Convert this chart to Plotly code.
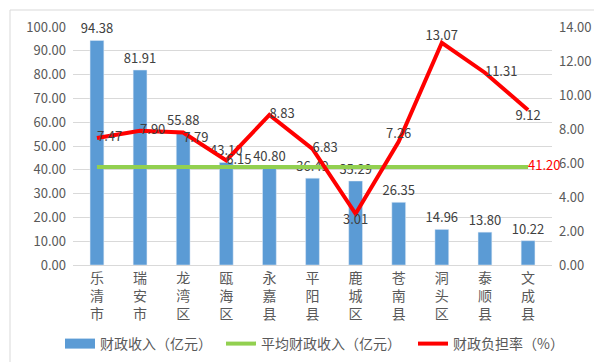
import plotly.graph_objects as go

categories = ["乐清市", "瑞安市", "龙湾区", "瓯海区", "永嘉县", "平阳县", "鹿城区", "苍南县", "洞头区", "泰顺县", "文成县"]
revenue = [94.38, 81.91, 55.88, 43.10, 40.80, 36.49, 35.29, 26.35, 14.96, 13.80, 10.22]
avg_revenue = 41.20
burden = [7.47, 7.90, 7.79, 6.15, 8.83, 6.83, 3.01, 7.26, 13.07, 11.31, 9.12]
left_ticks = [0, 10, 20, 30, 40, 50, 60, 70, 80, 90, 100]
right_ticks = [0, 2, 4, 6, 8, 10, 12, 14]

burden_pos = ["middle right", "middle right", "bottom right", "middle right", "middle right",
              "middle right", "bottom center", "top center", "top center", "middle right", "bottom center"]

FONT = "Noto Sans CJK SC, Noto Sans, sans-serif"
GRAY = "#595959"
BLUE = "#5B9BD5"

cat_labels = ["<br>".join(list(c)) for c in categories]

fig = go.Figure()
fig.add_trace(go.Bar(
    x=cat_labels, y=revenue, name="财政收入（亿元）", showlegend=False,
    marker=dict(color=BLUE), width=0.32,
    text=[f"{v:.2f}" for v in revenue], textposition="outside", constraintext="none",
    textfont=dict(color="#404040", size=13, family=FONT), cliponaxis=False,
))
# legend stand-in so the bar key is drawn as a wide block like the original
fig.add_trace(go.Scatter(
    x=[cat_labels[0]], y=[None], name="财政收入（亿元）", legend="legend",
    mode="lines", line=dict(color=BLUE, width=10), hoverinfo="skip",
))
fig.add_trace(go.Scatter(
    x=cat_labels, y=[avg_revenue] * len(categories), name="平均财政收入（亿元）", legend="legend2",
    mode="lines+text", line=dict(color="#92D050", width=4),
    text=[""] * (len(categories) - 1) + [f"{avg_revenue:.2f}"],
    textposition="middle right", textfont=dict(color="#FF0000", size=13, family=FONT),
    cliponaxis=False,
))
fig.add_trace(go.Scatter(
    x=cat_labels, y=burden, name="财政负担率（%）", yaxis="y2", legend="legend3",
    mode="lines+text", line=dict(color="#FF0000", width=4),
    text=[f"{v:.2f}" for v in burden], textposition=burden_pos,
    textfont=dict(color="#404040", size=13, family=FONT), cliponaxis=False,
))

def leg(xpx):
    return dict(orientation="h", xref="container", yref="container",
                x=xpx / 602, xanchor="left", y=1 - 336 / 362, yanchor="middle",
                font=dict(size=14, color=GRAY), itemwidth=30, bgcolor="rgba(0,0,0,0)")

fig.update_layout(
    width=602, height=362,
    margin=dict(l=65, r=58, t=19, b=105, autoexpand=False),
    paper_bgcolor="white", plot_bgcolor="white",
    font=dict(family=FONT, color=GRAY, size=12),
    bargap=0.68,
    xaxis=dict(showline=True, linecolor="#D9D9D9", linewidth=1, ticks="",
               tickfont=dict(size=14, color=GRAY), fixedrange=True, ticklabelstandoff=0),
    yaxis=dict(range=[0, 100], tickvals=left_ticks, ticktext=[f"{v:.2f}" for v in left_ticks],
               showgrid=True, gridcolor="#D9D9D9", gridwidth=1, zeroline=False,
               tickfont=dict(size=13, color=GRAY), ticklabelstandoff=6),
    yaxis2=dict(range=[0, 14], tickvals=right_ticks, ticktext=[f"{v:.2f}" for v in right_ticks],
                overlaying="y", side="right", showgrid=False, zeroline=False,
                tickfont=dict(size=13, color=GRAY), ticklabelstandoff=6),
    legend=leg(52),
    legend2=leg(213),
    legend3=leg(405),
    showlegend=True,
    shapes=[dict(type="rect", xref="paper", yref="paper",
                 x0=-63 / 479, x1=1 + 56 / 479, y0=-103 / 238, y1=1 + 17 / 238,
                 line=dict(color="#D9D9D9", width=1))],
)

fig.write_html("out.html")
